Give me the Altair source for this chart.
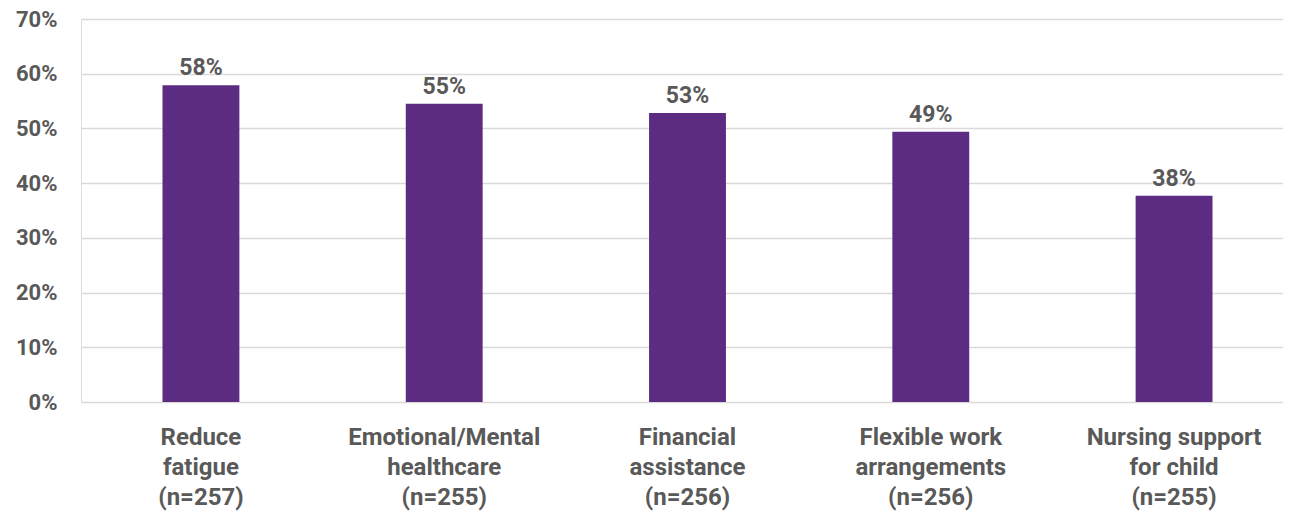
import altair as alt
import pandas as pd

categories = [
    "Reduce|fatigue|(n=257)",
    "Emotional/Mental|healthcare|(n=255)",
    "Financial|assistance|(n=256)",
    "Flexible work|arrangements|(n=256)",
    "Nursing support|for child|(n=255)",
]
values = [0.579, 0.545, 0.528, 0.494, 0.377]
value_labels = ["58%", "55%", "53%", "49%", "38%"]

df = pd.DataFrame({"cat": categories, "val": values, "lab": value_labels})

FONT = "Roboto"
GREY = "#595959"
PURPLE = "#5B2C82"

x = alt.X(
    "cat:N",
    sort=None,
    title=None,
    scale=alt.Scale(range=[0, 1213], paddingInner=0.684, paddingOuter=0.335),
    axis=alt.Axis(
        labelAngle=0,
        labelExpr="split(datum.label, '|')",
        labelFont=FONT,
        labelFontSize=24,
        labelFontWeight="bold",
        labelColor=GREY,
        labelLineHeight=30,
        labelPadding=23,
        labelBaseline="top",
        ticks=False,
        domain=False,
        labelLimit=400,
    ),
)

y = alt.Y(
    "val:Q",
    title=None,
    scale=alt.Scale(domain=[0, 0.7], nice=False),
    axis=alt.Axis(
        values=[0, 0.1, 0.2, 0.3, 0.4, 0.5, 0.6, 0.7],
        format=".0%",
        labelFont=FONT,
        labelFontSize=22,
        labelFontWeight="bold",
        labelColor=GREY,
        labelPadding=24,
        ticks=False,
        domain=False,
        grid=True,
        gridColor="#D9D9D9",
        gridWidth=1.6,
    ),
)

bars = alt.Chart(df).mark_bar(color=PURPLE).encode(x=x, y=y)

text = alt.Chart(df).mark_text(
    font=FONT,
    fontSize=23,
    fontWeight="bold",
    color=GREY,
    baseline="alphabetic",
    dy=-10,
).encode(x=x, y=y, text="lab:N")

chart = (
    alt.layer(bars, text)
    .properties(
        width=1202,
        height=383,
        autosize=alt.AutoSizeParams(type="none"),
        padding={"left": 73, "top": 11, "right": 0, "bottom": 116},
    )
    .configure_view(stroke=None)
    .configure(background="white")
)

chart.save("out.html", embed_options={"renderer": "svg", "actions": False})
